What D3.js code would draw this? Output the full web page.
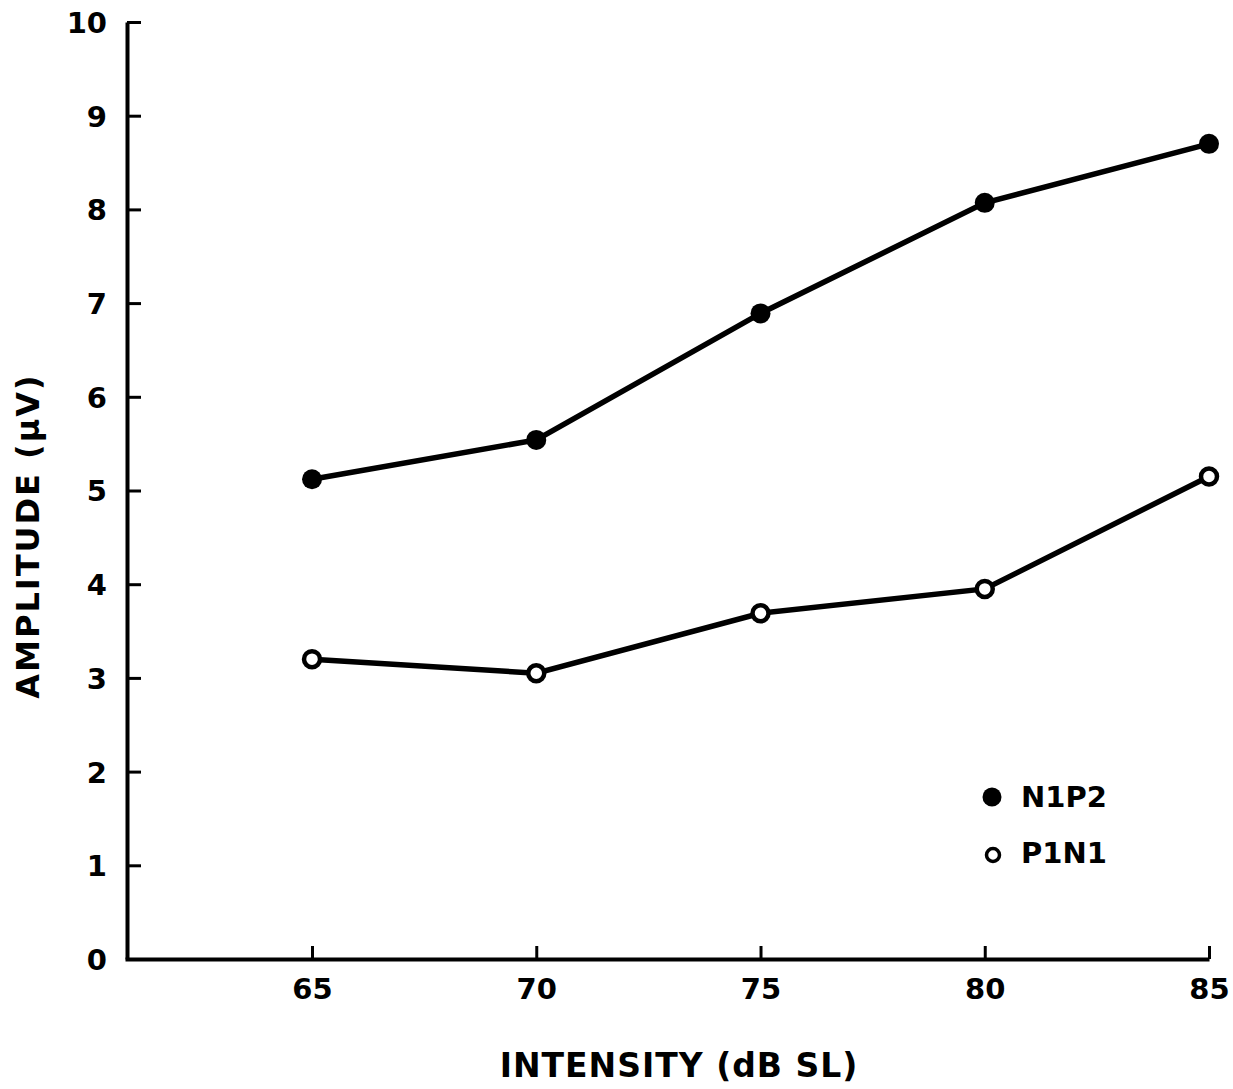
<!doctype html>
<html>
  <head>
    <title>Amplitude vs Intensity</title>
    <style>
      body { margin: 0; background: #fff; }
      svg text { font-family: "DejaVu Sans", sans-serif; font-weight: bold; fill: #000; }
    </style>
  </head>
  <body>
    <svg id="chart" width="1233" height="1089"></svg>
    <script src="https://d3js.org/d3.v7.min.js"></script>
    <script>
      // data
      const intensity = [65, 70, 75, 80, 85];
      const n1p2 = [5.12, 5.54, 6.89, 8.07, 8.7];
      const p1n1 = [3.2, 3.05, 3.69, 3.95, 5.15];
      const yTicks = [0, 1, 2, 3, 4, 5, 6, 7, 8, 9, 10];

      const svg = d3.select('#chart');
      const x = d3.scaleLinear().domain([60.83, 85]).range([125, 1209]);
      const y = d3.scaleLinear().domain([0, 10]).range([959, 22]);

      // axes: ticks point inward
      const yAxis = d3.axisLeft(y).tickValues(yTicks).tickSize(-14).tickPadding(20).tickSizeOuter(0);
      const xAxis = d3.axisBottom(x).tickValues(intensity).tickSize(-13).tickPadding(19).tickSizeOuter(0);

      const gy = svg.append('g').attr('transform', 'translate(127,0)').call(yAxis);
      const gx = svg.append('g').attr('transform', 'translate(0,959)').call(xAxis);
      [gx, gy].forEach((g) => {
        g.select('.domain').attr('stroke', '#000').attr('stroke-width', 4);
        g.selectAll('.tick line').attr('stroke', '#000').attr('stroke-width', 3);
        g.selectAll('.tick text').style('font-size', '29px').attr('fill', '#000');
      });
      gy.selectAll('.tick text').attr('dy', '0.36em');

      const line = d3.line()
        .x((d, i) => x(intensity[i]))
        .y((d) => y(d));

      [p1n1, n1p2].forEach((s) => {
        svg.append('path').datum(s)
          .attr('d', line)
          .attr('fill', 'none')
          .attr('stroke', '#000')
          .attr('stroke-width', 5.5);
      });

      svg.selectAll('.ptA').data(n1p2).enter().append('circle')
        .attr('cx', (d, i) => x(intensity[i]))
        .attr('cy', (d) => y(d))
        .attr('r', 10)
        .attr('fill', '#000');

      svg.selectAll('.ptB').data(p1n1).enter().append('circle')
        .attr('cx', (d, i) => x(intensity[i]))
        .attr('cy', (d) => y(d))
        .attr('r', 8)
        .attr('fill', '#fff')
        .attr('stroke', '#000')
        .attr('stroke-width', 4.5);

      // legend
      svg.append('circle').attr('cx', 992).attr('cy', 797).attr('r', 9.5).attr('fill', '#000');
      svg.append('circle').attr('cx', 993).attr('cy', 855).attr('r', 6.5)
        .attr('fill', '#fff').attr('stroke', '#000').attr('stroke-width', 3.5);
      svg.append('text').attr('x', 1021).attr('y', 807).style('font-size', '29px').text('N1P2');
      svg.append('text').attr('x', 1021).attr('y', 863).style('font-size', '29px').text('P1N1');

      // axis titles
      svg.append('text').attr('x', 679).attr('y', 1077).attr('text-anchor', 'middle')
        .style('font-size', '33px').style('letter-spacing', '1px').text('INTENSITY (dB SL)');
      svg.append('text').attr('transform', 'translate(39,536) rotate(-90)').attr('text-anchor', 'middle')
        .style('font-size', '32px').style('letter-spacing', '2px').text('AMPLITUDE (µV)');
    </script>
  </body>
</html>
